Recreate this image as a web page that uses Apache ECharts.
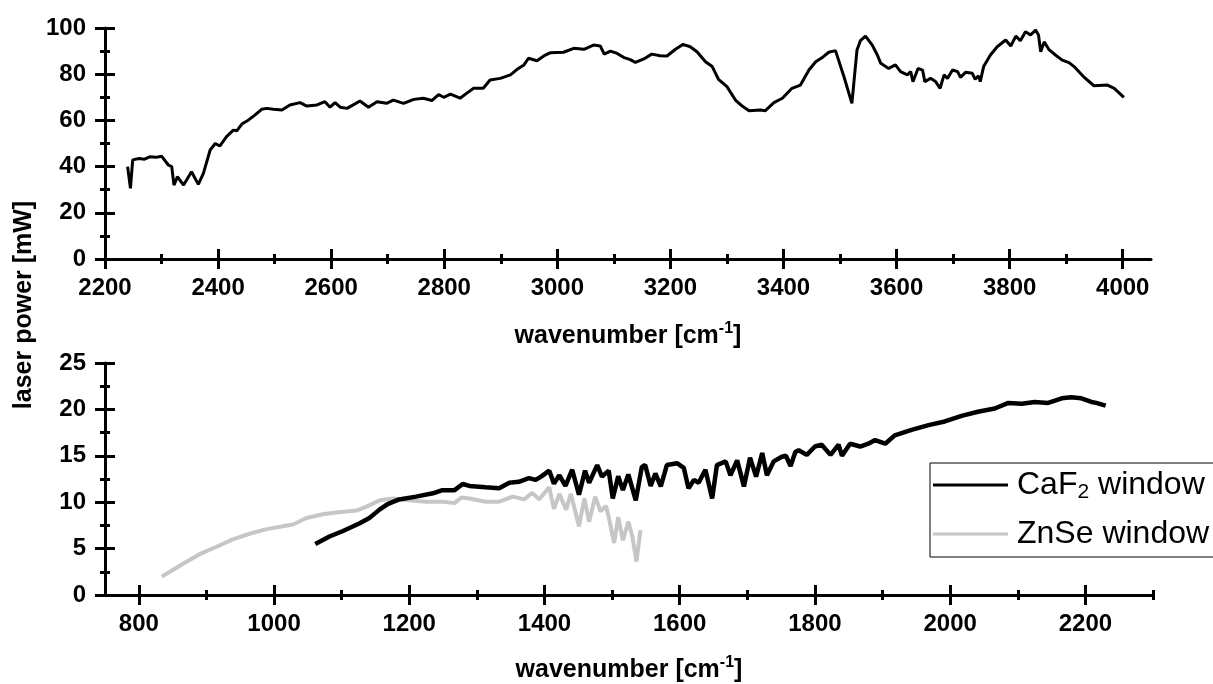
<!DOCTYPE html>
<html>
<head>
<meta charset="utf-8">
<script src="https://cdn.jsdelivr.net/npm/echarts@6/dist/echarts.min.js"></script>
<style>
html,body{margin:0;padding:0;background:#fff;}
#chart{width:1213px;height:684px;}
</style>
</head>
<body>
<div id="chart"></div>
<script>
// ---- Top panel: laser power vs wavenumber (2200-4000 cm-1) ----
const topWave = [2240,2245,2249,2260,2270,2280,2290,2300,2312,2318,2322,2328,2339,2353,2365,2374,2386,2395,2403,2415,2427,2433,2442,2454,2465,2477,2486,2498,2513,2527,2545,2557,2575,2589,2598,2607,2616,2628,2639,2651,2666,2681,2698,2710,2728,2746,2763,2778,2790,2799,2811,2828,2840,2852,2869,2881,2899,2917,2929,2941,2949,2964,2976,2988,3011,3029,3047,3064,3076,3083,3094,3106,3117,3129,3138,3153,3167,3182,3194,3209,3222,3235,3247,3262,3274,3285,3300,3315,3327,3339,3359,3368,3383,3398,3415,3430,3445,3457,3468,3480,3492,3507,3521,3530,3536,3545,3557,3566,3572,3586,3598,3607,3619,3625,3629,3638,3646,3650,3660,3669,3677,3684,3690,3699,3708,3713,3722,3734,3739,3745,3748,3754,3766,3778,3793,3802,3811,3819,3828,3837,3846,3851,3855,3861,3870,3881,3893,3905,3914,3932,3949,3973,3985,4002];
const topPower = [40,30.6,42.9,43.5,43.2,44.3,44,44.5,40.7,40.0,32,35.6,32,37.8,32.3,37.1,47.2,50,48.9,53,55.8,55.5,58.4,60.2,62.3,64.8,65.2,64.8,64.5,66.7,67.7,66.2,66.7,68.1,65.7,67.7,65.7,65.2,66.7,68.4,65.7,68.1,67.4,68.8,67.4,69.1,69.6,68.6,71.2,70,71.4,69.6,71.8,73.9,73.9,77.5,78.2,79.7,82.1,84,86.9,85.8,87.9,89.3,89.5,91.2,90.8,92.6,92.2,88.7,90,89,87.3,86.3,85.1,86.6,88.7,88,87.9,90.8,92.9,91.9,89.7,85.4,83.3,77.8,74.6,68.8,66.2,64.2,64.5,64.2,67.7,69.6,73.9,75.3,81.8,85.4,87.1,89.5,90.2,78.9,67.4,90.5,94.5,96.5,92.6,88.3,84.7,82.5,84,81.1,79.7,81.1,76.8,82.5,81.8,76.8,78.2,76.8,73.9,79.7,78.2,81.8,81.1,78.6,80.8,80.4,77.8,79.3,76.8,83.3,88.3,91.9,94.8,92.2,96.5,94.5,98.4,97,99.1,97,89.7,94,90.5,88.3,86.1,85,83.3,78.6,75,75.3,73.9,70];

// ---- Bottom panel: CaF2 window ----
const caf2Wave = [1061,1082,1102,1126,1141,1156,1168,1185,1210,1235,1249,1267,1279,1289,1313,1333,1348,1362,1377,1387,1395,1407,1414,1422,1431,1441,1451,1460,1466,1478,1485,1495,1501,1509,1516,1524,1535,1544,1549,1557,1564,1572,1581,1596,1606,1613,1621,1628,1638,1648,1655,1668,1675,1685,1695,1704,1713,1722,1729,1739,1751,1757,1764,1771,1776,1788,1800,1810,1823,1835,1840,1852,1867,1879,1889,1904,1918,1943,1968,1992,2017,2041,2066,2086,2106,2125,2145,2165,2179,2194,2209,2216,2230];
const caf2Power = [5.5,6.3,6.9,7.7,8.3,9.2,9.8,10.3,10.6,10.96,11.3,11.3,11.96,11.75,11.6,11.5,12.1,12.2,12.6,12.4,12.75,13.4,12.0,12.9,11.75,13.5,10.8,13.4,12.1,14.0,12.75,13.4,10.4,12.8,11.3,13.0,10.2,13.8,14.0,11.75,13.1,11.7,14.0,14.2,13.7,11.5,12.4,12.1,13.5,10.4,14.0,14.4,12.9,14.5,11.7,14.8,12.75,15.3,12.9,14.4,14.9,15.0,13.9,15.4,15.6,15.1,16.0,16.2,15.1,16.2,15.0,16.3,16.0,16.3,16.7,16.3,17.2,17.8,18.3,18.7,19.3,19.75,20.1,20.7,20.6,20.8,20.7,21.2,21.3,21.2,20.8,20.7,20.4];

// ---- Bottom panel: ZnSe window ----
const znseWave = [834,846,866,890,915,939,964,989,1013,1028,1048,1072,1092,1122,1136,1156,1176,1200,1225,1250,1267,1277,1289,1313,1333,1353,1370,1382,1392,1407,1414,1422,1432,1439,1451,1459,1466,1475,1483,1491,1495,1503,1509,1516,1524,1530,1536,1542];
const znsePower = [2.0,2.5,3.4,4.4,5.2,6.0,6.6,7.1,7.4,7.6,8.3,8.7,8.9,9.1,9.5,10.2,10.4,10.2,10.05,10.05,9.9,10.5,10.4,10.05,10.05,10.6,10.3,11.0,10.3,11.6,9.3,10.9,9.2,10.9,7.4,10.4,7.9,10.6,9.0,9.6,8.4,5.6,8.4,5.9,7.9,6.3,3.6,7.0];

// ---- Axis ticks ----
const topXMajor = [2200,2400,2600,2800,3000,3200,3400,3600,3800,4000];
const topXMinor = [2300,2500,2700,2900,3100,3300,3500,3700,3900];
const topYMajor = [0,20,40,60,80,100];
const topYMinor = [10,30,50,70,90];
const botXMajor = [800,1000,1200,1400,1600,1800,2000,2200];
const botXMinor = [900,1100,1300,1500,1700,1900,2100,2300];
const botYMajor = [0,5,10,15,20,25];
const botYMinor = [2.5,7.5,12.5,17.5,22.5];

const seriesNames = ['CaF2 window','ZnSe window'];
const xTitle = 'wavenumber [cm-1]';
const yTitle = 'laser power [mW]';

const FONT = '"Liberation Sans", Arial, sans-serif';
const zip = (a, b) => a.map((v, i) => [v, b[i]]);
const fmt = v => String(v);

function mainAxis(grid, min, max, labels, isX, extra) {
  return Object.assign({
    type: 'value', gridIndex: grid, min: min, max: max,
    position: isX ? 'bottom' : 'left',
    axisLine: {show: true, onZero: false, lineStyle: {color: '#000', width: 3}},
    axisTick: {show: false},
    splitLine: {show: false},
    axisLabel: {customValues: labels, formatter: fmt, color: '#000', fontFamily: FONT,
      fontWeight: 'bold', fontSize: 24, margin: isX ? 17 : 19}
  }, extra || {});
}
function tickAxis(grid, min, max, vals, isX, len) {
  return {
    type: 'value', gridIndex: grid, min: min, max: max,
    position: isX ? 'bottom' : 'left',
    offset: -len / 2,
    axisLine: {show: false, onZero: false},
    axisLabel: {show: false},
    splitLine: {show: false},
    axisTick: {show: true, customValues: vals, length: len, lineStyle: {color: '#000', width: 3}}
  };
}
const nameRich = {
  b: {fontFamily: FONT, fontWeight: 'bold', fontSize: 25, lineHeight: 30, color: '#000'},
  s: {fontFamily: FONT, fontWeight: 'bold', fontSize: 16, lineHeight: 16, verticalAlign: 'top', color: '#000'}
};
const xName = '{b|' + xTitle.replace('-1', '}{s|-1}{b|') + '}';

const chart = echarts.init(document.getElementById('chart'));
chart.setOption({
  animation: false,
  backgroundColor: '#fff',
  grid: [
    {left: 105, top: 28, width: 1046, height: 231},
    {left: 105, top: 363, width: 1048, height: 232}
  ],
  xAxis: [
    mainAxis(0, 2200, 4050, topXMajor, true, {name: xName, nameLocation: 'middle', nameGap: 62, nameTextStyle: {rich: nameRich}}),
    tickAxis(0, 2200, 4050, topXMajor, true, 20),
    tickAxis(0, 2200, 4050, topXMinor, true, 10),
    mainAxis(1, 750, 2300, botXMajor, true, {name: xName, nameLocation: 'middle', nameGap: 60, nameTextStyle: {rich: nameRich}}),
    tickAxis(1, 750, 2300, botXMajor, true, 20),
    tickAxis(1, 750, 2300, botXMinor, true, 10)
  ],
  yAxis: [
    mainAxis(0, 0, 100, topYMajor, false),
    tickAxis(0, 0, 100, topYMajor, false, 20),
    tickAxis(0, 0, 100, topYMinor, false, 10),
    mainAxis(1, 0, 25, botYMajor, false),
    tickAxis(1, 0, 25, botYMajor, false, 20),
    tickAxis(1, 0, 25, botYMinor, false, 10)
  ],
  legend: {
    data: seriesNames,
    orient: 'vertical',
    left: 930, top: 463,
    icon: 'rect',
    itemWidth: 75, itemHeight: 3, itemGap: 15,
    padding: [6, 60, 7, 3],
    borderColor: '#000', borderWidth: 1, backgroundColor: '#fff',
    formatter: name => name === 'CaF2 window' ? '{a|CaF}{s|2}{a| window}' : '{a|' + name + '}',
    textStyle: {
      color: '#000', fontFamily: FONT, fontSize: 32, padding: [0, 0, 0, 4],
      rich: {
        a: {fontFamily: FONT, fontSize: 32, lineHeight: 36, color: '#000'},
        s: {fontFamily: FONT, fontSize: 21, lineHeight: 22, verticalAlign: 'bottom', color: '#000'}
      }
    }
  },
  graphic: [{
    type: 'text', x: 24, y: 305, rotation: Math.PI / 2,
    style: {text: yTitle, font: 'bold 25px ' + FONT, fill: '#000', align: 'center', verticalAlign: 'middle'}
  }],
  series: [
    {name: 'top', type: 'line', xAxisIndex: 0, yAxisIndex: 0, data: zip(topWave, topPower),
      symbol: 'none', color: '#000', lineStyle: {color: '#000', width: 3}},
    {name: seriesNames[1], type: 'line', xAxisIndex: 3, yAxisIndex: 3, data: zip(znseWave, znsePower),
      symbol: 'none', color: '#c6c6c6', lineStyle: {color: '#c6c6c6', width: 4}},
    {name: seriesNames[0], type: 'line', xAxisIndex: 3, yAxisIndex: 3, data: zip(caf2Wave, caf2Power),
      symbol: 'none', color: '#000', lineStyle: {color: '#000', width: 4.5}}
  ]
});
</script>
</body>
</html>
